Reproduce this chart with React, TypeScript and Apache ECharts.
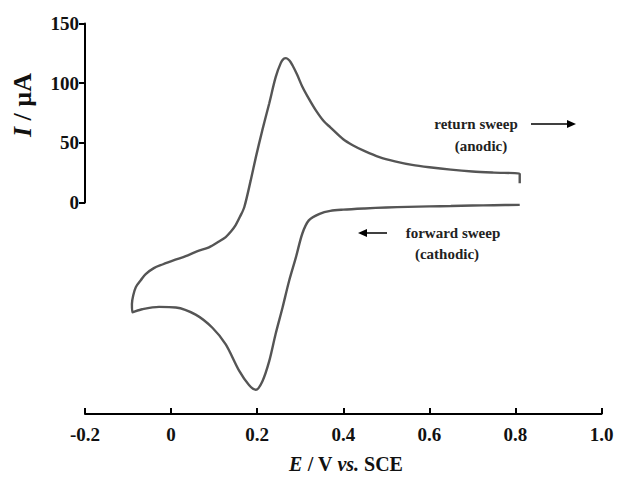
import React, { useEffect, useRef } from "react";
import * as echarts from "echarts";

// Forward sweep (cathodic), from 0.81 V going left
const forwardE = [0.81, 0.75, 0.7, 0.65, 0.6, 0.55, 0.5, 0.45, 0.4, 0.37, 0.345, 0.32, 0.305, 0.29, 0.274, 0.259, 0.243, 0.228, 0.212, 0.197, 0.181, 0.158, 0.127, 0.096, 0.057, 0.011, -0.028, -0.067, -0.09];
const forwardI = [-2, -2.3, -2.6, -3, -3.3, -3.7, -4.2, -5, -6, -7, -9.5, -15, -26, -46, -66, -88, -110, -133, -150, -157, -153, -141, -119, -105, -94, -88, -87.5, -89.5, -92];

// Return sweep (anodic), from -0.09 V going right
const returnE = [-0.091, -0.088, -0.082, -0.07, -0.059, -0.04, -0.02, 0.01, 0.034, 0.06, 0.088, 0.11, 0.127, 0.14, 0.15, 0.16, 0.17, 0.185, 0.197, 0.212, 0.228, 0.243, 0.255, 0.262, 0.267, 0.275, 0.282, 0.293, 0.305, 0.32, 0.336, 0.355, 0.37, 0.4, 0.422, 0.45, 0.484, 0.52, 0.56, 0.6, 0.65, 0.7, 0.75, 0.81, 0.81];
const returnI = [-85, -78, -71, -65, -60, -55, -52, -48, -45, -41, -37.6, -33, -29, -24, -19, -12, -4, 18.5, 38, 60.6, 83, 105, 117, 120.5, 121, 119, 115, 107, 97, 87, 77.4, 68, 63, 53, 48, 43, 38, 34.5, 31.5, 29.5, 27.5, 26, 25, 24, 16];

const xTicks = [-0.2, 0, 0.2, 0.4, 0.6, 0.8, 1.0];
const yTicks = [0, 50, 100, 150];

const SERIF = '"Liberation Serif", "Times New Roman", serif';

export default function App() {
  const ref = useRef<HTMLDivElement>(null);
  useEffect(() => {
    if (!ref.current) return;
    const chart = echarts.init(ref.current, null, { renderer: "svg" });
    const data: number[][] = [];
    forwardE.forEach((e, i) => data.push([e, forwardI[i]]));
    returnE.forEach((e, i) => data.push([e, returnI[i]]));

    chart.setOption({
      animation: false,
      backgroundColor: "#ffffff",
      grid: [
        { left: 85, right: 17.5, top: 23.5, bottom: 63 },
        { left: 85, right: 17.5, top: 23.5, height: 179 },
      ],
      xAxis: [
        {
          type: "value",
          gridIndex: 0,
          min: xTicks[0],
          max: xTicks[xTicks.length - 1],
          interval: 0.2,
          splitLine: { show: false },
          axisLine: { show: true, onZero: false, lineStyle: { color: "#000", width: 2 } },
          axisTick: { show: true, inside: true, length: 6, lineStyle: { color: "#000", width: 2 } },
          axisLabel: {
            margin: 11,
            color: "#111",
            fontFamily: SERIF,
            fontWeight: "bold",
            fontSize: 19,
            formatter: (v: number) => (Math.abs(v) < 1e-9 ? "0" : v.toFixed(1)),
          },
        },
        {
          type: "value",
          gridIndex: 1,
          min: -0.2,
          max: 1.0,
          show: false,
        },
      ],
      yAxis: [
        {
          type: "value",
          gridIndex: 0,
          min: -177.3,
          max: 150,
          show: false,
        },
        {
          type: "value",
          gridIndex: 1,
          min: yTicks[0],
          max: yTicks[yTicks.length - 1],
          interval: 50,
          splitLine: { show: false },
          axisLine: { show: true, onZero: false, lineStyle: { color: "#000", width: 2 } },
          axisTick: { show: true, length: 6, lineStyle: { color: "#000", width: 2 } },
          axisLabel: {
            margin: 6,
            color: "#111",
            fontFamily: SERIF,
            fontWeight: "bold",
            fontSize: 19,
          },
        },
      ],
      series: [
        {
          type: "line",
          xAxisIndex: 0,
          yAxisIndex: 0,
          data,
          showSymbol: false,
          smooth: 0.3,
          lineStyle: { color: "#555", width: 2.4 },
          silent: true,
        },
      ],
      graphic: [
        {
          type: "text",
          x: 22,
          y: 105,
          rotation: Math.PI / 2,
          style: {
            text: "{i|I} / µA",
            align: "center",
            verticalAlign: "middle",
            fill: "#111",
            font: `bold 26px ${SERIF}`,
            rich: {
              i: { fontStyle: "italic", fontWeight: "bold", fontSize: 26, fontFamily: SERIF, fill: "#111" },
            },
          },
        },
        {
          type: "text",
          x: 346,
          y: 464,
          style: {
            text: "{i|E} / V {i|vs.} SCE",
            align: "center",
            verticalAlign: "middle",
            fill: "#111",
            font: `bold 20px ${SERIF}`,
            rich: {
              i: { fontStyle: "italic", fontWeight: "bold", fontSize: 20, fontFamily: SERIF, fill: "#111" },
            },
          },
        },
        {
          type: "text",
          x: 476,
          y: 124,
          style: { text: "return sweep", align: "center", verticalAlign: "middle", fill: "#222", font: `bold 15px ${SERIF}` },
        },
        {
          type: "text",
          x: 481,
          y: 146,
          style: { text: "(anodic)", align: "center", verticalAlign: "middle", fill: "#222", font: `bold 15px ${SERIF}` },
        },
        { type: "line", shape: { x1: 531, y1: 124, x2: 570, y2: 124 }, style: { stroke: "#000", lineWidth: 1.5 } },
        { type: "polygon", shape: { points: [[576, 124], [567, 120], [567, 128]] }, style: { fill: "#000" } },
        {
          type: "text",
          x: 453,
          y: 233,
          style: { text: "forward sweep", align: "center", verticalAlign: "middle", fill: "#222", font: `bold 15px ${SERIF}` },
        },
        {
          type: "text",
          x: 447,
          y: 254,
          style: { text: "(cathodic)", align: "center", verticalAlign: "middle", fill: "#222", font: `bold 15px ${SERIF}` },
        },
        { type: "line", shape: { x1: 364, y1: 233, x2: 387, y2: 233 }, style: { stroke: "#000", lineWidth: 1.5 } },
        { type: "polygon", shape: { points: [[358, 233], [367, 229], [367, 237]] }, style: { fill: "#000" } },
      ],
    });
    return () => chart.dispose();
  }, []);
  return <div ref={ref} style={{ position: "absolute", left: 0, top: 0, width: 619, height: 477 }} />;
}
